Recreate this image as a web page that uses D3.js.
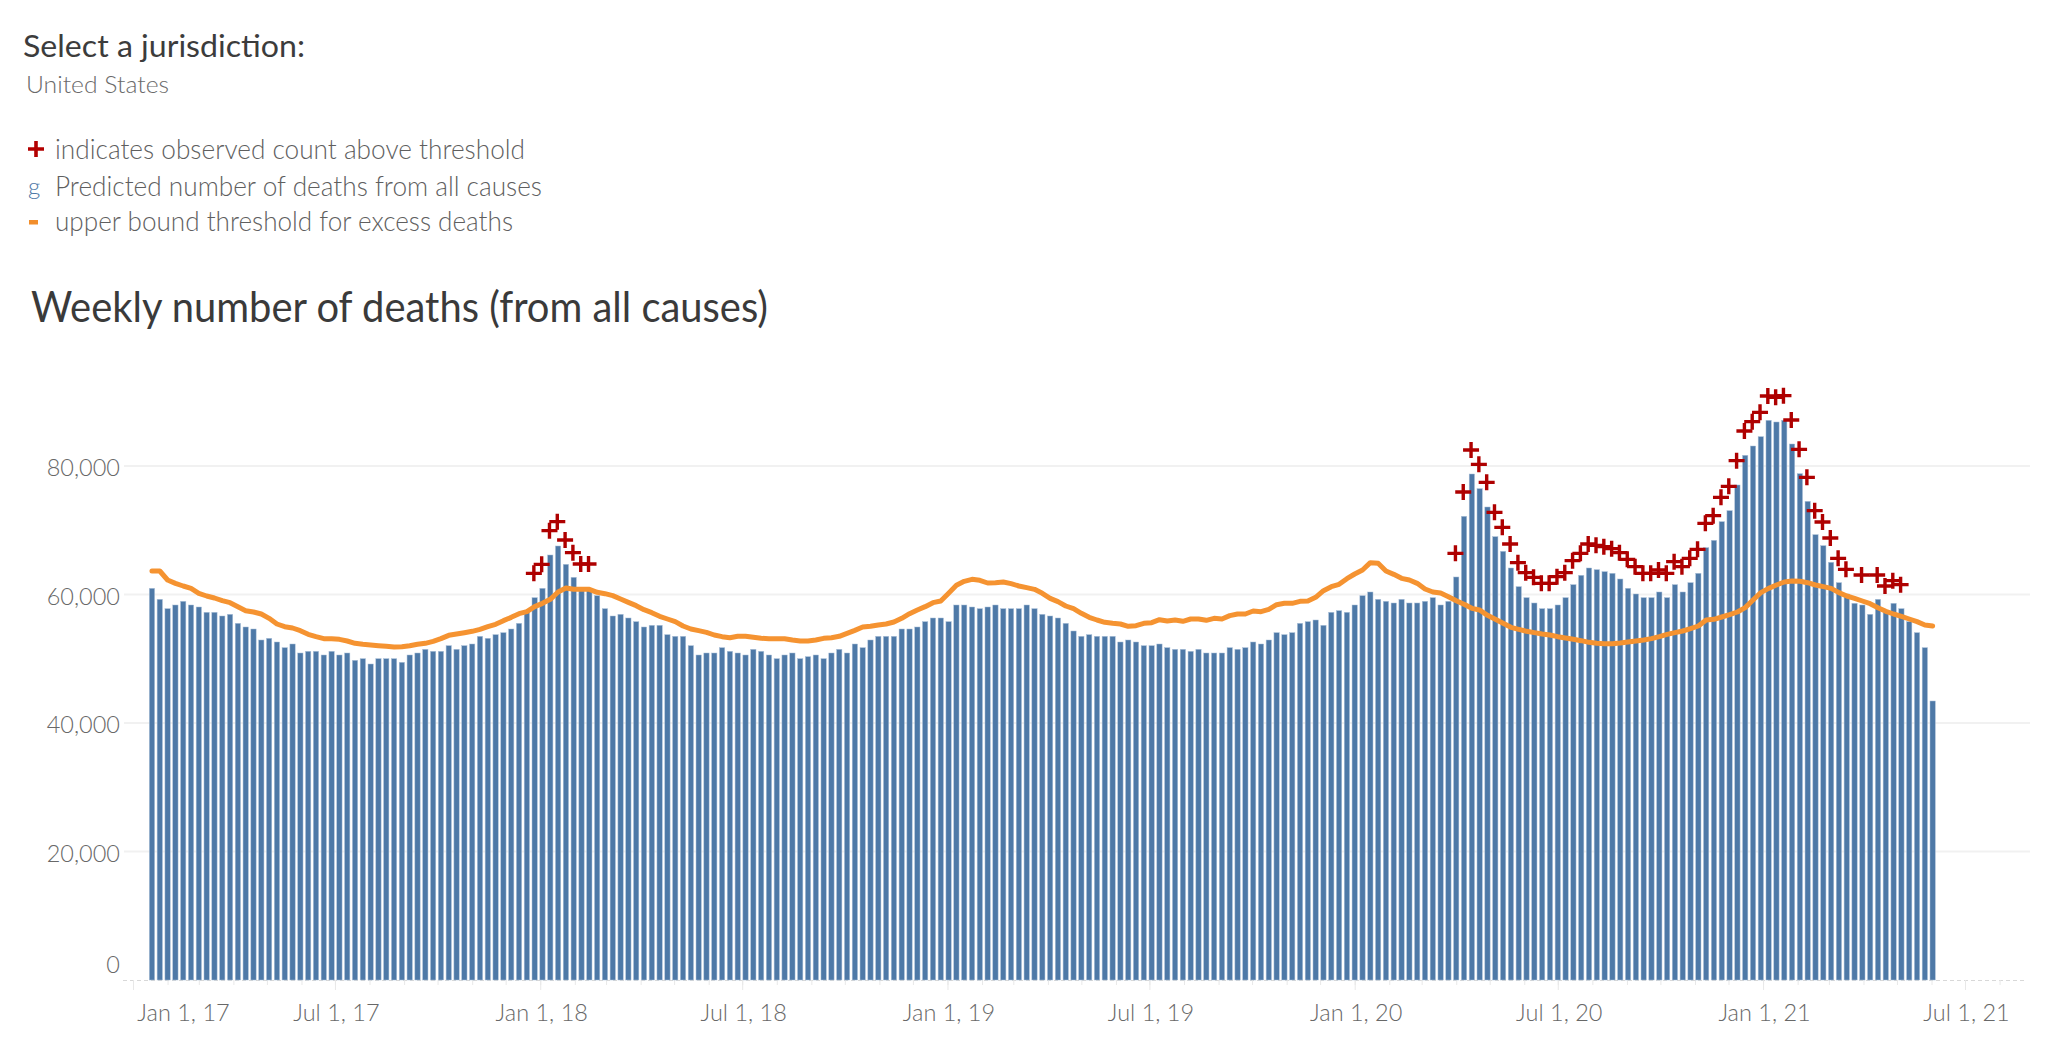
<!DOCTYPE html>
<html>
<head>
<meta charset="utf-8">
<script src="https://cdnjs.cloudflare.com/ajax/libs/d3/7.8.5/d3.min.js"></script>
<style>
html,body{margin:0;padding:0;background:#fff;}
svg{display:block;}
text{font-family:Lato,"Noto Sans",sans-serif;}
</style>
</head>
<body>
<svg id="chart" width="2048" height="1057"></svg>
<script>
const firstWeek = "2017-01-18";
const yTickValues = [0, 20000, 40000, 60000, 80000];
const xTickLabels = ["2017-01-01","2017-07-01","2018-01-01","2018-07-01","2019-01-01","2019-07-01","2020-01-01","2020-07-01","2021-01-01","2021-07-01"];

const weeklyDeaths = [
60960,59248,57795,58366,58937,58366,58054,57225,57225,56654,56913,55512,54942,54630,52918,53178,52607,51725,52296,50895,
51155,51155,50584,51155,50584,50895,49753,50013,49183,50013,50013,50013,49443,50584,50895,51466,51155,51155,52036,51466,
52036,52296,53489,53178,53749,54060,54630,55512,57225,59507,60960,66148,67549,64695,62672,60960,60960,59818,57795,56654,
56913,56343,55772,54942,55201,55201,53749,53489,53489,52036,50584,50895,50895,51725,51155,50895,50584,51466,51155,50584,
50013,50584,50895,50013,50324,50584,50013,50895,51466,50895,52296,51725,52918,53489,53489,53489,54630,54630,54942,55772,
56343,56343,55772,58366,58366,58054,57795,58054,58366,57795,57795,57795,58366,57795,56913,56654,56343,55512,54319,53489,
53749,53489,53489,53489,52607,52918,52607,52036,52036,52296,51725,51466,51466,51155,51466,50895,50895,50895,51725,51466,
51725,52607,52296,52918,54060,53749,54060,55512,55772,56031,55201,57225,57484,57225,58366,59818,60389,59248,58937,58677,
59248,58678,58678,58937,59508,58367,58937,62725,72167,78755,76473,73619,69002,66719,64125,61220,59508,58678,57796,57796,
58367,59508,61531,62984,64125,63866,63555,63295,62413,60961,60078,59508,59508,60390,59508,61531,60390,61842,63295,67290,
68431,71337,73049,77043,81661,83113,84566,87108,86849,87108,83425,78807,74501,69313,67601,65007,61842,60078,58626,58367,
56914,59249,57484,58626,57796,55772,54061,51726,43425];

const upperBound = [
63658,63658,62257,61738,61323,60960,60182,59767,59455,59040,58729,58106,57484,57276,56965,56291,55409,54994,54786,54371,
53800,53437,53126,53126,53022,52763,52400,52244,52140,52036,51933,51829,51881,52036,52244,52400,52711,53126,53645,53853,
54060,54267,54579,54994,55357,55927,56446,57017,57328,58106,58625,59248,60389,61012,60804,60804,60804,60337,60130,59818,
59300,58781,58262,57640,57173,56602,56187,55772,55097,54630,54371,54112,53697,53437,53282,53489,53489,53333,53178,53126,
53126,53126,52918,52763,52763,52918,53178,53282,53489,53956,54423,54942,55045,55253,55409,55720,56291,57017,57588,58106,
58729,58988,60182,61427,62049,62361,62205,61790,61842,61946,61686,61323,61064,60804,60182,59403,58885,58210,57795,57069,
56446,56031,55668,55512,55409,55045,55149,55512,55616,56083,55875,56031,55824,56187,56187,55979,56291,56187,56706,56965,
56965,57432,57328,57691,58418,58625,58625,58937,58988,59559,60597,61219,61583,62464,63191,63813,64955,64851,63658,63139,
62516,62258,61739,60858,60390,60234,59664,59041,58470,57848,57588,56758,56136,55513,54891,54580,54268,54061,53853,53697,
53438,53230,53023,52815,52556,52400,52348,52348,52452,52608,52764,52919,53127,53438,53801,54061,54320,54683,55098,56032,
56136,56499,56862,57277,57952,59145,60286,60961,61479,61946,62102,62050,61842,61479,61220,60961,60286,59767,59404,58989,
58574,57952,57381,56966,56603,56188,55772,55254,55098];

const observedWeeks = [50,51,52,53,54,55,56,57,
168,169,170,171,172,173,174,175,176,177,178,179,180,181,182,183,184,185,186,187,188,189,190,191,192,193,194,195,196,197,198,199,
200,201,202,203,204,205,206,207,208,209,210,211,212,213,214,215,216,217,218,220,222,223,224,225];
const observedAbove = [63294,64695,69935,71336,68482,66511,64747,64747,
66408,75954,82491,80260,77458,72789,70455,67861,64955,63399,62673,61739,61739,62776,63399,65267,66408,67861,67653,67446,67134,66512,65474,64333,63295,63295,63814,63295,65111,64333,65630,67031,
71077,72271,75124,76836,80831,85448,86901,88353,90895,90688,90947,87160,82595,78237,73049,71284,68795,65630,63918,63036,63036,61324,62154,61531];

const parseDay = d3.utcParse("%Y-%m-%d");
const weekDates = weeklyDeaths.map((_, i) => d3.utcDay.offset(parseDay(firstWeek), i * 7));

const svg = d3.select("#chart");
const x = d3.scaleUtc().domain([parseDay("2017-01-01"), parseDay("2021-07-01")]).range([133, 1965]);
const y = d3.scaleLinear().domain([0, 80000]).range([980, 466]);

// Header & legend
const grey = "#5f5f5f";
function label(t, px, py, size, fill, len, weight) {
  const s = svg.append("text").attr("x", px).attr("y", py).attr("font-size", size)
    .attr("fill", fill).attr("font-weight", weight || 400).text(t);
  if (len) s.attr("textLength", len).attr("lengthAdjust", "spacingAndGlyphs");
  return s;
}
label("Select a jurisdiction:", 23, 57, 31, "#3c3c3c", 282);
label("United States", 26, 93, 24, "#6a6a6a", 143, 300);
label("indicates observed count above threshold", 55, 159, 27, grey, 470, 300);
label("Predicted number of deaths from all causes", 55, 196, 27, grey, 487, 300);
label("upper bound threshold for excess deaths", 55, 231, 27, grey, 458, 300);
label("g", 28, 195, 24, "#4e79a7", null, 300);
svg.append("path").attr("transform", "translate(36,149)").attr("d", "M-8,0H8M0,-8V8")
  .attr("stroke", "#b30000").attr("stroke-width", 3.6).attr("fill", "none");
svg.append("rect").attr("x", 29).attr("y", 220).attr("width", 9).attr("height", 4.5).attr("fill", "#f28e2b");
label("Weekly number of deaths (from all causes)", 31, 322, 42, "#3a3a3a", 737);

// Y axis + gridlines
const yAxis = d3.axisLeft(y).tickValues(yTickValues).tickFormat(d3.format(",")).tickSize(0);
const gy = svg.append("g").attr("transform", "translate(120,0)").call(yAxis);
gy.select(".domain").remove();
gy.selectAll("text").attr("x", 0).attr("font-size", 23.5).attr("font-weight", 300).attr("fill", "#686868")
  .style("font-family", "Lato").attr("dy", d => d === 0 ? "-0.3em" : "0.42em");
svg.append("g").selectAll("line").data(yTickValues.filter(d => d > 0)).join("line")
  .attr("x1", 124).attr("x2", 2030).attr("y1", d => y(d)).attr("y2", d => y(d))
  .attr("stroke", "#f1f1f1").attr("stroke-width", 1.8);

// Baseline
svg.append("line").attr("x1", 123).attr("x2", 2025).attr("y1", y(0) + 0.5).attr("y2", y(0) + 0.5)
  .attr("stroke", "#d8d8d8").attr("stroke-width", 1).attr("stroke-dasharray", "4 3");

// X axis
const monthTicks = d3.utcMonth.range(parseDay("2017-01-01"), parseDay("2021-09-01"));
const gMinor = d3.axisBottom(x).tickValues(monthTicks).tickFormat("").tickSize(5);
svg.append("g").attr("transform", "translate(0,980)").call(gMinor)
  .call(g => g.select(".domain").remove())
  .selectAll("line").attr("stroke", "#e8e8e8");
const gMajor = d3.axisBottom(x).tickValues(xTickLabels.map(parseDay)).tickSize(10)
  .tickFormat(d3.utcFormat("%b %-d, %y"));
const gx = svg.append("g").attr("transform", "translate(0,980)").call(gMajor);
gx.select(".domain").remove();
gx.selectAll("line").attr("stroke", "#e8e8e8");
gx.selectAll("text").attr("y", 24).attr("font-size", 23.5).attr("font-weight", 300)
  .attr("fill", "#686868").style("font-family", "Lato").attr("dy", "0.71em")
  .attr("dx", (d, i) => i === 0 ? 50 : 1);

// Bars
const barW = 5.3;
svg.append("g").selectAll("rect").data(weeklyDeaths).join("rect")
  .attr("x", (d, i) => x(weekDates[i]) - barW / 2)
  .attr("y", d => y(d))
  .attr("width", barW)
  .attr("height", d => y(0) - y(d))
  .attr("fill", "#4e79a7")
  .attr("stroke", "#a9bfd8").attr("stroke-width", 0.5);

// Threshold line
const line = d3.line().x((d, i) => x(weekDates[i])).y(d => y(d));
svg.append("path").datum(upperBound).attr("d", line).attr("fill", "none")
  .attr("stroke", "#f59331").attr("stroke-width", 5)
  .attr("stroke-linejoin", "round").attr("stroke-linecap", "round");

// Observed above threshold
svg.append("g").selectAll("path").data(observedAbove).join("path")
  .attr("transform", (d, i) => `translate(${x(weekDates[observedWeeks[i] - 1]) - 0.8},${y(d)})`)
  .attr("d", "M-8,0H8M0,-8V8")
  .attr("stroke", "#ae0000").attr("stroke-width", 3.4).attr("fill", "none");
</script>
</body>
</html>
